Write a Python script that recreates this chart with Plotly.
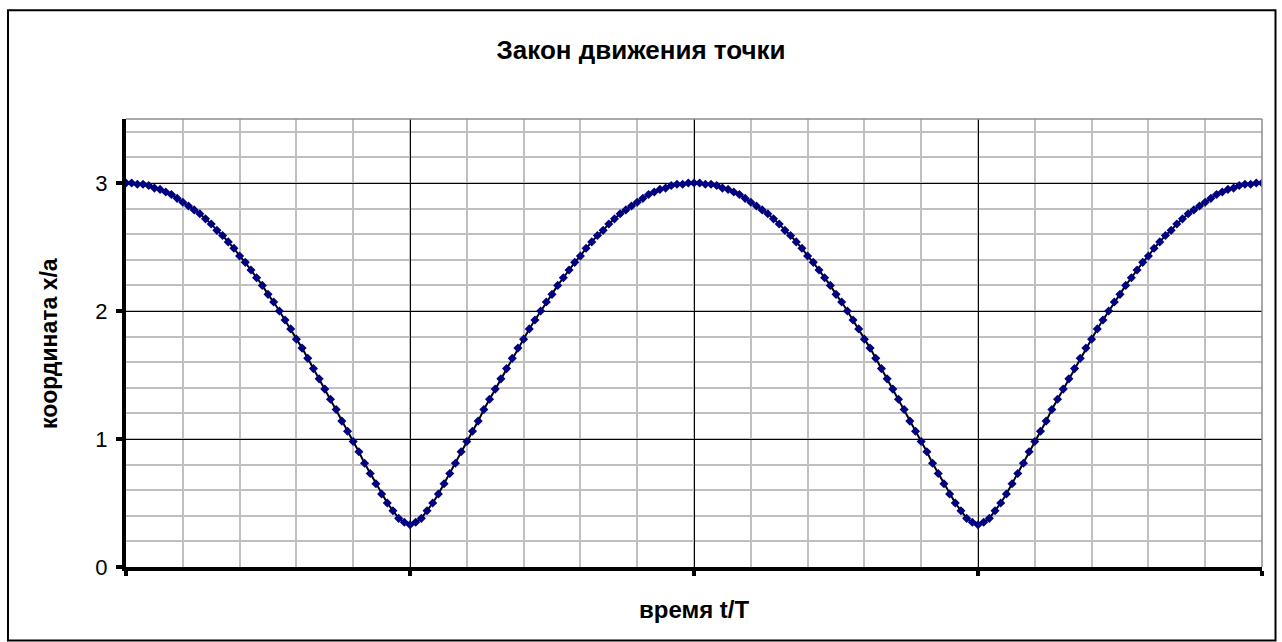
import plotly.graph_objects as go

# time grid t/T (uniform step 0.01 from 0 to 2)
time_tT = [round(i * 0.01, 2) for i in range(201)]

coord_xa = [
    3.00, 3.00, 2.99, 2.99, 2.98, 2.96, 2.95, 2.93, 2.91, 2.88,
    2.85, 2.82, 2.79, 2.76, 2.72, 2.68, 2.63, 2.59, 2.54, 2.49,
    2.43, 2.38, 2.32, 2.26, 2.20, 2.13, 2.07, 2.00, 1.93, 1.86,
    1.78, 1.71, 1.63, 1.55, 1.47, 1.39, 1.31, 1.23, 1.14, 1.06,
    0.98, 0.90, 0.81, 0.73, 0.65, 0.57, 0.50, 0.44, 0.38, 0.35,
    0.33,
    0.35, 0.38, 0.44, 0.50, 0.57, 0.65, 0.73, 0.81, 0.90, 0.98,
    1.06, 1.14, 1.23, 1.31, 1.39, 1.47, 1.55, 1.63, 1.71, 1.78,
    1.86, 1.93, 2.00, 2.07, 2.13, 2.20, 2.26, 2.32, 2.38, 2.43,
    2.49, 2.54, 2.59, 2.63, 2.68, 2.72, 2.76, 2.79, 2.82, 2.85,
    2.88, 2.91, 2.93, 2.95, 2.96, 2.98, 2.99, 2.99, 3.00, 3.00,
    3.00, 2.99, 2.99, 2.98, 2.96, 2.95, 2.93, 2.91, 2.88, 2.85,
    2.82, 2.79, 2.76, 2.72, 2.68, 2.63, 2.59, 2.54, 2.49, 2.43,
    2.38, 2.32, 2.26, 2.20, 2.13, 2.07, 2.00, 1.93, 1.86, 1.78,
    1.71, 1.63, 1.55, 1.47, 1.39, 1.31, 1.23, 1.14, 1.06, 0.98,
    0.90, 0.81, 0.73, 0.65, 0.57, 0.50, 0.44, 0.38, 0.35, 0.33,
    0.35, 0.38, 0.44, 0.50, 0.57, 0.65, 0.73, 0.81, 0.90, 0.98,
    1.06, 1.14, 1.23, 1.31, 1.39, 1.47, 1.55, 1.63, 1.71, 1.78,
    1.86, 1.93, 2.00, 2.07, 2.13, 2.20, 2.26, 2.32, 2.38, 2.43,
    2.49, 2.54, 2.59, 2.63, 2.68, 2.72, 2.76, 2.79, 2.82, 2.85,
    2.88, 2.91, 2.93, 2.95, 2.96, 2.98, 2.99, 2.99, 3.00, 3.00,
]

y_tick_vals = [0, 1, 2, 3]
y_tick_text = ["0", "1", "2", "3"]
x_tick_vals = [0, 0.5, 1, 1.5, 2]

title_text = "Закон движения точки"
x_title = "время t/T"
y_title = "координата x/a"

FONT = "Arial, Liberation Sans, sans-serif"

fig = go.Figure()
fig.add_trace(go.Scatter(
    x=time_tT, y=coord_xa, mode="lines+markers",
    line=dict(color="black", width=2),
    marker=dict(symbol="diamond", size=7, color="#000080"),
    showlegend=False, hoverinfo="x+y",
))

W, H = 1282, 642
L, R, T, B = 126, 20, 119, 75
pw, ph = W - L - R, H - T - B

def px_to_paper_x(px):
    return (px - L) / pw

def px_to_paper_y(py):
    return (H - B - py) / ph

fig.update_layout(
    width=W, height=H,
    margin=dict(l=L, r=R, t=T, b=B),
    paper_bgcolor="white", plot_bgcolor="white",
    font=dict(family=FONT, color="black"),
    title=dict(text="<b>" + title_text + "</b>", x=0.5, xref="container",
               y=1 - 50 / H, yref="container", yanchor="middle", xanchor="center",
               font=dict(size=26, family=FONT, color="black")),
    xaxis=dict(range=[0, 2], tickvals=x_tick_vals, showticklabels=False,
               showgrid=True, gridcolor="black", gridwidth=1,
               minor=dict(dtick=0.1, showgrid=True, gridcolor="#c0c0c0", gridwidth=1.5),
               showline=True, linecolor="black", linewidth=4,
               ticks="outside", ticklen=5, tickwidth=4, tickcolor="black",
               zeroline=False, fixedrange=True),
    yaxis=dict(range=[0, 3.5], tickvals=y_tick_vals, ticktext=y_tick_text,
               showgrid=True, gridcolor="black", gridwidth=1,
               minor=dict(dtick=0.2, showgrid=True, gridcolor="#c0c0c0", gridwidth=1.5),
               showline=True, linecolor="black", linewidth=4,
               ticks="outside", ticklen=6, tickwidth=4, tickcolor="black",
               ticklabelstandoff=4,
               tickfont=dict(size=22, family=FONT, color="black"),
               zeroline=False, fixedrange=True),
    shapes=[
        # gray plot-area border (top and right)
        dict(type="line", xref="paper", yref="paper", x0=0, x1=1, y0=1, y1=1,
             line=dict(color="#8c8c8c", width=1.5), layer="above"),
        dict(type="line", xref="paper", yref="paper", x0=1, x1=1, y0=0, y1=1,
             line=dict(color="#8c8c8c", width=1.5), layer="above"),
        # outer chart frame
        dict(type="rect", xref="paper", yref="paper",
             x0=px_to_paper_x(8), x1=px_to_paper_x(1275.5),
             y0=px_to_paper_y(640.5), y1=px_to_paper_y(10.3),
             line=dict(color="black", width=2), layer="above"),
    ],
    annotations=[
        dict(text="<b>" + y_title + "</b>", xref="paper", yref="paper",
             x=px_to_paper_x(49), y=0.5, textangle=-90, showarrow=False,
             xanchor="center", yanchor="middle",
             font=dict(size=23, family=FONT, color="black")),
        dict(text="<b>" + x_title + "</b>", xref="paper", yref="paper",
             x=0.5, y=px_to_paper_y(609), showarrow=False,
             xanchor="center", yanchor="middle",
             font=dict(size=24, family=FONT, color="black")),
    ],
)

fig.write_html("out.html", config={"displayModeBar": False},
               post_script="document.body.style.margin='0px';document.body.style.overflow='hidden';")
